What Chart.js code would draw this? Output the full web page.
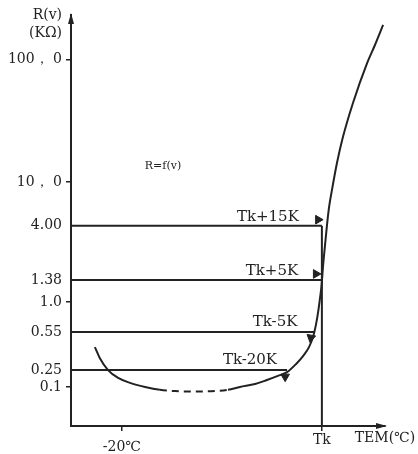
<!DOCTYPE html>
<html>
<head>
<meta charset="utf-8">
<script src="https://cdn.jsdelivr.net/npm/chart.js@4.4.0/dist/chart.umd.min.js"></script>
<style>
  html, body { margin: 0; padding: 0; background: #fff; }
</style>
</head>
<body>
<canvas id="chart" width="418" height="454"></canvas>
<script>
// y axis is a schematic level scale: 0 = origin, 100 = tip of the arrow
const yTickLevels = [89.1, 59.4, 48.7, 35.5, 30.2, 22.9, 13.6, 9.5]
const yTickLabels = ['100， 0', '10， 0', '4.00', '1.38', '1.0', '0.55', '0.25', '0.1']
const yTickMarked = [true, true, false, false, true, false, false, true]

// x axis is a schematic temperature scale, 0..100
const xTickValues = [16.2, 79.9]
const xTickLabels = [['', '-20℃'], 'Tk']
const tkValue = 79.9

// R = f(v) curve
const curveX = [7.6, 9.2, 11.8, 15.0, 18.8, 23.6, 28.3, 33.1, 39.5, 45.9, 50.0, 53.8, 58.6, 62.4, 65.9, 68.8,
  71.7, 73.9, 75.8, 77.1, 78.0, 78.7, 79.3, 79.8, 80.3, 80.9, 81.5, 82.2, 83.1, 84.7, 86.6, 89.8, 94.3, 96.8, 99.4]
const curveY = [19.2, 16.5, 13.6, 11.7, 10.5, 9.5, 8.8, 8.5, 8.4, 8.5, 8.8, 9.5, 10.2, 11.2, 12.2, 13.1,
  15.1, 17.0, 19.2, 21.7, 24.6, 27.7, 31.1, 34.3, 39.2, 44.0, 48.7, 53.3, 57.4, 64.0, 70.3, 78.6, 88.3, 92.7, 97.6]
const dashFrom = 28
const dashTo = 50.1

// switching levels
const refNames = ['Tk+15K', 'Tk+5K', 'Tk-5K', 'Tk-20K']
const refLevels = [48.7, 35.5, 22.9, 13.6]
const refEnds = [79.9, 79.9, 77.4, 68.8]

// arrow heads
const markerX = [78.7, 78.0, 76.4, 68.2]
const markerY = [50.2, 37.0, 21.5, 12.0]
const markerRot = [90, 90, 190, 180]

// annotation anchors
const labelX = [62.7, 64.0, 65.0, 57.0]
const labelY = [50.9, 37.8, 25.3, 16.1]
const fnLabel = 'R=f(v)'
const fnX = 29.3
const fnY = 63.3

const ink = '#222'
const serif = "'DejaVu Serif', 'Liberation Serif', serif"

const datasets = []

datasets.push({
  data: curveX.map((x, i) => ({ x, y: curveY[i] })),
  borderColor: ink,
  borderWidth: 2,
  pointRadius: 0,
  cubicInterpolationMode: 'monotone',
  segment: {
    borderDash: c => (c.p0.parsed.x >= dashFrom && c.p1.parsed.x <= dashTo ? [7, 5] : undefined),
  },
})

refLevels.forEach((lvl, i) => {
  datasets.push({
    data: [{ x: 0, y: lvl }, { x: refEnds[i], y: lvl }],
    borderColor: ink,
    borderWidth: 2,
    pointRadius: 0,
  })
})

datasets.push({
  data: [{ x: tkValue, y: 0 }, { x: tkValue, y: refLevels[0] }],
  borderColor: ink,
  borderWidth: 2,
  pointRadius: 0,
})

datasets.push({
  data: markerX.map((x, i) => ({ x, y: markerY[i] })),
  showLine: false,
  pointStyle: 'triangle',
  pointRadius: 5,
  rotation: markerRot,
  backgroundColor: ink,
  borderColor: ink,
  borderWidth: 1,
})

const decor = {
  id: 'decor',
  afterDraw(chart) {
    const { ctx, chartArea } = chart
    const x = chart.scales.x
    const y = chart.scales.y
    ctx.save()
    ctx.fillStyle = ink

    // axis arrows
    ctx.beginPath()
    ctx.moveTo(chartArea.left, chartArea.top - 2)
    ctx.lineTo(chartArea.left - 3, chartArea.top + 9)
    ctx.lineTo(chartArea.left + 3, chartArea.top + 9)
    ctx.closePath()
    ctx.fill()
    ctx.beginPath()
    ctx.moveTo(chartArea.right + 2, chartArea.bottom)
    ctx.lineTo(chartArea.right - 9, chartArea.bottom - 3)
    ctx.lineTo(chartArea.right - 9, chartArea.bottom + 3)
    ctx.closePath()
    ctx.fill()

    // axis titles
    ctx.font = '14px ' + serif
    ctx.textAlign = 'right'
    ctx.textBaseline = 'middle'
    ctx.fillText('R(v)', chartArea.left - 9, chartArea.top)
    ctx.fillText('(KΩ)', chartArea.left - 9, chartArea.top + 18)
    ctx.textAlign = 'center'
    ctx.fillText('TEM(℃)', chartArea.right, chartArea.bottom + 12)

    // switching point labels
    ctx.font = '15px ' + serif
    refNames.forEach((name, i) => {
      ctx.fillText(name, x.getPixelForValue(labelX[i]), y.getPixelForValue(labelY[i]))
    })
    ctx.font = '11px ' + serif
    ctx.fillText(fnLabel, x.getPixelForValue(fnX), y.getPixelForValue(fnY))
    ctx.restore()
  },
}

new Chart(document.getElementById('chart'), {
  type: 'line',
  data: { datasets },
  plugins: [decor],
  options: {
    responsive: false,
    animation: false,
    layout: { padding: { top: 15, right: 33, left: 0, bottom: 0 } },
    plugins: {
      legend: { display: false },
      tooltip: { enabled: false },
    },
    scales: {
      x: {
        type: 'linear',
        min: 0,
        max: 100,
        afterBuildTicks: s => { s.ticks = xTickValues.map(v => ({ value: v })) },
        afterFit: s => { s.height = 28 },
        ticks: {
          autoSkip: false,
          maxRotation: 0,
          padding: 1,
          color: ink,
          font: c => ({ family: serif, size: 14, lineHeight: c.index === 0 ? '10px' : '16px' }),
          callback: (v, i) => xTickLabels[i],
        },
        grid: { drawOnChartArea: false, tickLength: 5, color: ink, lineWidth: 1.5 },
        border: { color: ink, width: 2 },
      },
      y: {
        type: 'linear',
        min: 0,
        max: 100,
        afterBuildTicks: s => { s.ticks = yTickLevels.map(v => ({ value: v })) },
        afterFit: s => { s.width = 71 },
        ticks: {
          autoSkip: false,
          padding: 4,
          color: ink,
          font: { family: serif, size: 14 },
          callback: (v, i) => yTickLabels[i],
        },
        grid: {
          drawOnChartArea: false,
          tickLength: 5,
          lineWidth: 1.5,
          color: c => (yTickMarked[c.index] ? ink : 'rgba(0,0,0,0)'),
        },
        border: { color: ink, width: 2 },
      },
    },
  },
})
</script>
</body>
</html>
